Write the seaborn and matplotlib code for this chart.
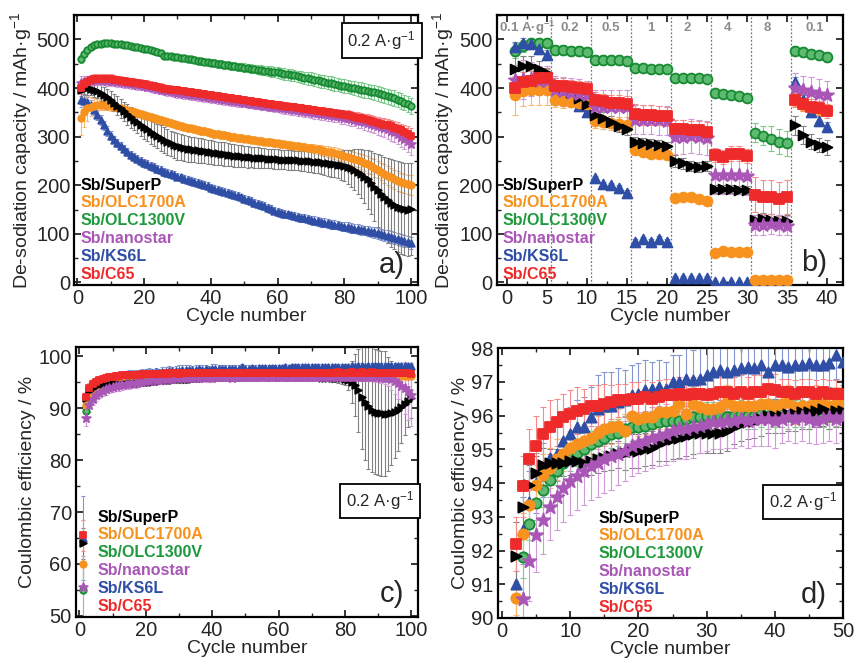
import numpy as np
import pandas as pd
import matplotlib.pyplot as plt
import seaborn as sns
from matplotlib.ticker import MultipleLocator

sns.set_theme(style='ticks')
plt.rcParams['font.family'] = ['Liberation Sans', 'DejaVu Sans']
plt.rcParams['mathtext.default'] = 'regular'

# ---- sample names / styles ----
labels = ['Sb/SuperP', 'Sb/OLC1700A', 'Sb/OLC1300V', 'Sb/nanostar', 'Sb/KS6L', 'Sb/C65']
colors = ['#000000', '#F7921E', '#1E9A3C', '#A956B6', '#2F4EA6', '#EE2A2A']
err_colors = ['#808080', '#F9B870', '#7CC98C', '#D09AD8', '#8496CF', '#F48A8A']
markers = ['>', 'o', 'o', '*', '^', 's']
draw_order = [2, 4, 1, 0, 3, 5]

# ---- a) de-sodiation capacity at 0.2 A/g, cycles 1-100 ----
cyc_a = list(range(1, 101))
cap_superp = [395, 399, 400, 399, 397, 394, 390, 386, 381, 376,
              370, 364, 358, 352, 346, 340, 335, 330, 325, 320,
              315, 310, 305, 301, 297, 293, 289, 286, 283, 280,
              278, 277, 275, 274, 273, 272, 271, 270, 269, 268,
              267, 266, 265, 264, 263, 262, 261, 260, 260, 259,
              258, 258, 257, 257, 256, 256, 255, 255, 254, 254,
              253, 253, 252, 252, 251, 251, 250, 250, 249, 249,
              248, 248, 247, 246, 245, 244, 243, 242, 241, 240,
              238, 235, 232, 228, 224, 218, 212, 205, 197, 190,
              182, 175, 169, 164, 160, 156, 153, 151, 150, 151]
cap_olc1700 = [338, 350, 358, 362, 364, 365, 365, 365, 364, 363,
               362, 360, 358, 356, 354, 352, 350, 348, 346, 344,
               342, 340, 338, 336, 334, 332, 330, 328, 326, 324,
               322, 320, 318, 317, 315, 314, 312, 311, 309, 307,
               306, 305, 304, 303, 302, 300, 299, 298, 297, 296,
               295, 294, 293, 292, 291, 290, 289, 288, 287, 286,
               285, 284, 283, 282, 281, 280, 279, 278, 277, 276,
               275, 274, 272, 271, 269, 268, 266, 264, 262, 260,
               258, 256, 254, 252, 249, 246, 243, 240, 236, 232,
               228, 224, 220, 216, 212, 209, 206, 204, 202, 201]
cap_olc1300 = [460, 470, 478, 484, 488, 490, 491, 492, 492, 492,
               491, 491, 490, 489, 488, 487, 485, 484, 483, 481,
               480, 478, 476, 474, 472, 466, 466, 465, 464, 463,
               462, 461, 460, 459, 458, 456, 455, 454, 453, 452,
               451, 450, 449, 448, 447, 446, 445, 444, 443, 442,
               441, 440, 439, 438, 437, 436, 435, 434, 433, 432,
               430, 429, 428, 427, 426, 424, 423, 421, 420, 419,
               417, 416, 414, 413, 411, 410, 408, 407, 405, 404,
               403, 401, 400, 398, 397, 395, 394, 392, 391, 389,
               387, 385, 383, 381, 379, 376, 373, 370, 367, 363]
cap_nanostar = [410, 412, 414, 415, 416, 416, 416, 416, 415, 415,
                414, 413, 412, 411, 410, 409, 408, 407, 406, 405,
                403, 402, 400, 399, 397, 396, 394, 393, 392, 390,
                389, 388, 387, 386, 385, 384, 383, 382, 381, 380,
                379, 378, 377, 376, 375, 374, 373, 372, 371, 370,
                369, 368, 367, 366, 365, 364, 363, 362, 361, 360,
                359, 358, 357, 356, 355, 354, 353, 352, 351, 350,
                349, 348, 347, 346, 345, 344, 343, 342, 340, 339,
                338, 336, 335, 333, 332, 330, 328, 326, 324, 322,
                320, 318, 315, 312, 309, 305, 300, 296, 291, 285]
cap_ks6l = [375, 374, 372, 365, 355, 345, 334, 323, 312, 302,
            294, 287, 280, 274, 268, 263, 258, 254, 250, 246,
            243, 240, 237, 234, 231, 228, 226, 223, 221, 218,
            216, 213, 211, 209, 206, 204, 202, 200, 198, 195,
            193, 191, 189, 187, 185, 182, 180, 178, 175, 172,
            170, 167, 164, 162, 159, 157, 154, 151, 148, 145,
            143, 141, 140, 138, 137, 135, 133, 132, 130, 129,
            127, 126, 124, 123, 122, 120, 119, 118, 116, 115,
            114, 112, 111, 110, 108, 107, 106, 104, 103, 101,
            99, 97, 96, 94, 92, 90, 88, 86, 84, 81]
cap_c65 = [400, 408, 413, 416, 418, 419, 419, 419, 418, 418,
           417, 416, 415, 414, 413, 412, 411, 410, 409, 408,
           407, 405, 404, 402, 401, 399, 398, 397, 396, 395,
           394, 393, 392, 391, 390, 389, 388, 387, 386, 385,
           384, 383, 382, 381, 380, 379, 378, 377, 376, 375,
           374, 373, 372, 371, 370, 369, 368, 367, 366, 365,
           364, 363, 362, 361, 360, 359, 358, 357, 356, 355,
           354, 353, 352, 351, 350, 349, 348, 347, 346, 345,
           344, 342, 341, 339, 338, 336, 335, 333, 331, 329,
           327, 325, 323, 321, 318, 316, 313, 310, 306, 302]

err_cap_superp = [12, 12, 14, 14, 15, 15, 16, 16, 17, 18,
                  18, 19, 20, 20, 21, 22, 22, 23, 23, 24,
                  24, 25, 25, 25, 26, 26, 26, 26, 27, 27,
                  27, 27, 27, 26, 26, 26, 26, 25, 25, 25,
                  25, 24, 24, 24, 23, 23, 23, 22, 22, 22,
                  22, 21, 21, 21, 21, 20, 20, 20, 20, 20,
                  20, 20, 20, 20, 20, 20, 20, 21, 21, 21,
                  22, 22, 23, 24, 25, 26, 27, 28, 30, 32,
                  35, 38, 42, 46, 50, 55, 60, 65, 70, 75,
                  80, 84, 88, 90, 92, 93, 94, 95, 95, 95]
err_cap_olc1700 = [35, 30, 25, 20, 15, 12, 10, 10, 10, 10,
                   8, 8, 8, 8, 8, 8, 8, 8, 8, 8,
                   8, 8, 8, 8, 8, 8, 8, 8, 8, 8,
                   8, 8, 8, 8, 8, 8, 8, 8, 8, 8,
                   8, 8, 8, 8, 8, 8, 8, 8, 8, 8,
                   8, 8, 8, 8, 8, 8, 8, 8, 8, 8,
                   8, 8, 8, 8, 8, 8, 8, 8, 8, 8,
                   9, 9, 10, 10, 11, 11, 12, 12, 13, 13,
                   14, 14, 15, 15, 16, 16, 17, 17, 18, 18,
                   18, 19, 19, 19, 20, 20, 20, 20, 20, 20]
err_cap_olc1300 = [8, 6, 5, 5, 5, 5, 5, 5, 5, 5,
                   5, 5, 5, 5, 5, 5, 5, 5, 5, 5,
                   6, 6, 6, 6, 6, 6, 6, 6, 6, 6,
                   6, 6, 6, 7, 7, 7, 7, 7, 7, 7,
                   8, 8, 8, 8, 8, 8, 8, 8, 8, 9,
                   9, 9, 9, 10, 10, 10, 10, 11, 11, 11,
                   12, 12, 12, 12, 12, 12, 12, 12, 13, 13,
                   13, 13, 13, 13, 13, 14, 14, 14, 14, 14,
                   14, 14, 14, 14, 15, 15, 15, 15, 15, 15,
                   15, 15, 15, 16, 16, 16, 16, 16, 16, 16]
err_cap_nanostar = [15, 12, 10, 10, 10, 10, 10, 10, 10, 10,
                    10, 10, 10, 10, 10, 10, 10, 10, 10, 10,
                    10, 10, 10, 10, 10, 10, 10, 10, 10, 10,
                    10, 10, 10, 10, 10, 10, 10, 10, 10, 10,
                    10, 10, 10, 10, 10, 10, 10, 10, 10, 10,
                    10, 10, 10, 10, 10, 10, 10, 10, 10, 10,
                    11, 11, 11, 11, 11, 11, 11, 11, 11, 11,
                    12, 12, 12, 12, 12, 12, 12, 12, 13, 13,
                    13, 14, 14, 15, 15, 16, 16, 17, 17, 18,
                    18, 19, 19, 20, 20, 21, 21, 22, 22, 22]
err_cap_ks6l = [15, 12, 10, 10, 10, 10, 10, 10, 10, 9,
                8, 8, 8, 8, 8, 8, 8, 8, 8, 8,
                8, 8, 8, 8, 8, 8, 8, 8, 8, 8,
                8, 8, 8, 8, 8, 8, 8, 8, 8, 8,
                8, 8, 8, 8, 8, 8, 8, 8, 8, 8,
                8, 8, 8, 8, 8, 8, 8, 8, 8, 8,
                8, 8, 8, 8, 8, 8, 8, 8, 8, 8,
                9, 9, 9, 9, 9, 9, 9, 9, 9, 9,
                10, 10, 10, 10, 10, 10, 11, 11, 11, 11,
                11, 11, 12, 12, 12, 12, 12, 12, 12, 12]
err_cap_c65 = [12, 10, 10, 10, 10, 10, 10, 10, 10, 10,
               9, 9, 9, 9, 9, 9, 9, 9, 9, 9,
               9, 9, 9, 9, 9, 9, 9, 9, 9, 9,
               8, 8, 8, 8, 8, 8, 8, 8, 8, 8,
               8, 8, 8, 8, 8, 8, 8, 8, 8, 8,
               8, 8, 8, 8, 8, 8, 8, 8, 8, 8,
               9, 9, 9, 9, 9, 9, 9, 9, 9, 9,
               9, 9, 9, 9, 9, 9, 9, 9, 9, 9,
               10, 10, 10, 11, 11, 11, 12, 12, 12, 12,
               12, 13, 13, 13, 14, 14, 14, 15, 15, 15]

# ---- b) rate capability, cycles 1-40 ----
cyc_b = list(range(1, 41))
rate_labels = ['0.1 A·g$^{-1}$', '0.2', '0.5', '1', '2', '4', '8', '0.1']
rate_label_x = [2.5, 7.8, 13.0, 18.0, 22.5, 27.5, 32.5, 38.5]
rate_steps = [5.5, 10.5, 15.5, 20.5, 25.5, 30.5, 35.5]
rate_superp = [440, 445, 446, 440, 430, 410, 400, 392, 380, 368,
               345, 338, 330, 322, 316, 290, 287, 285, 283, 280,
               250, 245, 240, 238, 240, 192, 193, 192, 191, 190,
               128, 130, 128, 127, 127, 323, 303, 290, 283, 278]
rate_olc1700 = [385, 393, 395, 395, 395, 375, 373, 372, 370, 368,
                332, 330, 328, 326, 325, 273, 268, 264, 265, 263,
                174, 175, 175, 172, 168, 60, 64, 63, 63, 63,
                5, 5, 5, 5, 5, 375, 365, 360, 357, 355]
rate_olc1300 = [477, 486, 492, 492, 493, 479, 479, 477, 476, 475,
                458, 458, 457, 457, 455, 441, 441, 440, 440, 439,
                421, 421, 420, 420, 419, 390, 388, 386, 384, 380,
                308, 302, 296, 290, 286, 477, 474, 471, 467, 464]
rate_nanostar = [417, 418, 418, 415, 415, 395, 393, 390, 388, 385,
                 362, 362, 362, 361, 360, 335, 335, 335, 334, 333,
                 300, 300, 302, 300, 298, 222, 222, 222, 222, 220,
                 118, 118, 120, 118, 117, 400, 395, 392, 388, 385]
rate_ks6l = [484, 492, 490, 480, 469, 405, 395, 385, 363, 350,
             214, 202, 200, 195, 185, 84, 89, 84, 90, 84,
             10, 10, 10, 10, 10, 2, 2, 2, 2, 2,
             2, 2, 2, 2, 2, 412, 375, 350, 332, 320]
rate_c65 = [400, 412, 415, 420, 420, 405, 405, 402, 400, 398,
            376, 373, 370, 370, 368, 347, 345, 345, 343, 342,
            315, 315, 313, 313, 310, 262, 258, 265, 265, 260,
            181, 175, 175, 172, 175, 375, 367, 362, 358, 353]

err_rate_superp = [25, 20, 20, 15, 12, 10, 10, 10, 10, 10,
                   12, 12, 12, 12, 12, 10, 10, 10, 10, 10,
                   12, 12, 10, 10, 10, 8, 8, 8, 8, 8,
                   10, 12, 12, 12, 12, 20, 18, 15, 15, 15]
err_rate_olc1700 = [40, 30, 30, 30, 30, 15, 15, 12, 12, 12,
                    15, 15, 15, 15, 15, 10, 10, 8, 8, 8,
                    6, 6, 6, 6, 6, 5, 5, 5, 5, 5,
                    3, 3, 3, 3, 3, 12, 12, 12, 12, 12]
err_rate_olc1300 = [15, 12, 10, 10, 10, 10, 10, 10, 10, 10,
                    10, 10, 10, 10, 10, 8, 8, 8, 8, 8,
                    8, 8, 8, 8, 8, 8, 8, 8, 8, 8,
                    20, 20, 25, 25, 25, 10, 10, 10, 10, 10]
err_rate_nanostar = [30, 40, 35, 30, 30, 30, 30, 30, 30, 30,
                     35, 35, 35, 35, 35, 30, 30, 30, 30, 30,
                     35, 35, 35, 35, 35, 40, 40, 40, 40, 40,
                     20, 20, 20, 20, 20, 30, 30, 30, 30, 30]
err_rate_ks6l = [10, 10, 10, 10, 10, 6, 6, 6, 6, 6,
                 5, 5, 5, 5, 5, 5, 5, 5, 5, 5,
                 3, 3, 3, 3, 3, 2, 2, 2, 2, 2,
                 2, 2, 2, 2, 2, 10, 10, 10, 10, 10]
err_rate_c65 = [20, 20, 20, 20, 20, 15, 15, 15, 15, 15,
                15, 15, 15, 15, 15, 20, 20, 20, 20, 20,
                20, 20, 20, 20, 20, 15, 15, 15, 15, 15,
                35, 35, 35, 35, 35, 15, 15, 15, 15, 15]

# ---- c) / d) coulombic efficiency, cycles 1-100 ----
cyc_c = list(range(1, 101))
ce_superp = [64.0, 91.85, 93.3, 93.95, 94.3, 94.55, 94.6, 94.6, 94.6, 94.65,
             94.65, 94.6, 94.65, 94.7, 94.75, 94.8, 94.85, 94.9, 94.95, 94.95,
             95.0, 95.05, 95.15, 95.25, 95.3, 95.35, 95.4, 95.45, 95.5, 95.5,
             95.5, 95.5, 95.55, 95.65, 95.75, 95.8, 95.85, 95.9, 96.0, 96.0,
             96.0, 96.05, 96.05, 96.1, 96.1, 96.15, 96.2, 96.1, 96.15, 96.15,
             96.1, 96.15, 96.1, 96.1, 96.15, 96.1, 96.1, 96.05, 96.1, 96.05,
             96.05, 96.0, 96.05, 96.0, 96.0, 96.0, 95.95, 96.0, 95.95, 95.9,
             95.9, 95.9, 95.85, 95.85, 95.8, 95.8, 95.75, 95.7, 95.7, 95.6,
             95.4, 95.0, 94.4, 93.4, 92.2, 91.1, 90.3, 89.7, 89.3, 89.1,
             89.0, 88.9, 88.9, 89.0, 89.3, 89.7, 90.2, 90.8, 91.4, 92.0]
ce_olc1700 = [60.0, 90.6, 92.5, 93.35, 93.95, 94.25, 94.45, 94.7, 94.85, 95.05,
              95.15, 95.25, 95.35, 95.5, 95.6, 95.65, 95.7, 95.55, 96.0, 95.9,
              95.95, 95.95, 96.1, 96.1, 96.15, 96.35, 96.05, 96.35, 96.25, 96.2,
              96.2, 96.25, 96.4, 96.3, 96.3, 96.3, 96.3, 96.35, 96.35, 96.3,
              96.35, 96.4, 96.25, 96.3, 96.3, 96.4, 96.35, 96.3, 96.35, 96.35,
              96.4, 96.35, 96.4, 96.4, 96.35, 96.4, 96.45, 96.4, 96.4, 96.45,
              96.4, 96.45, 96.4, 96.45, 96.4, 96.45, 96.45, 96.4, 96.45, 96.4,
              96.45, 96.4, 96.45, 96.4, 96.4, 96.45, 96.4, 96.4, 96.45, 96.4,
              96.4, 96.35, 96.4, 96.4, 96.35, 96.4, 96.35, 96.35, 96.4, 96.3,
              96.35, 96.3, 96.3, 96.3, 96.25, 96.3, 96.25, 96.2, 96.2, 96.15]
ce_olc1300 = [55.0, 89.5, 91.8, 92.8, 93.4, 93.8, 94.1, 94.35, 94.6, 94.75,
              94.9, 95.0, 95.15, 95.25, 95.35, 95.45, 95.5, 95.6, 95.65, 95.65,
              95.7, 95.75, 95.8, 95.85, 95.85, 95.85, 95.9, 95.95, 95.95, 96.0,
              96.0, 96.0, 95.95, 96.0, 96.05, 96.0, 96.0, 96.05, 96.0, 96.05,
              96.05, 96.0, 96.05, 96.05, 96.0, 96.05, 96.05, 96.0, 96.1, 96.05,
              96.1, 96.1, 96.05, 96.1, 96.15, 96.1, 96.1, 96.15, 96.15, 96.1,
              96.15, 96.2, 96.15, 96.15, 96.2, 96.2, 96.15, 96.2, 96.2, 96.25,
              96.2, 96.25, 96.2, 96.25, 96.25, 96.2, 96.25, 96.3, 96.25, 96.25,
              96.3, 96.25, 96.3, 96.3, 96.25, 96.3, 96.3, 96.3, 96.35, 96.3,
              96.3, 96.35, 96.3, 96.3, 96.35, 96.3, 96.3, 96.35, 96.3, 96.3]
ce_nanostar = [55.5, 88.0, 90.55, 91.7, 92.45, 92.9, 93.3, 93.6, 93.85, 94.05,
               94.2, 94.35, 94.5, 94.6, 94.7, 94.8, 94.85, 94.95, 95.1, 95.2,
               95.25, 95.35, 95.4, 95.45, 95.55, 95.6, 95.6, 95.65, 95.7, 95.75,
               95.8, 95.8, 95.85, 95.85, 95.9, 95.85, 95.9, 95.9, 95.9, 95.85,
               95.9, 95.95, 95.9, 95.95, 95.9, 95.85, 95.9, 95.95, 95.9, 95.95,
               95.95, 95.9, 95.95, 95.95, 96.0, 95.95, 95.95, 96.0, 95.95, 96.0,
               96.0, 95.95, 96.0, 96.0, 95.95, 96.0, 96.0, 96.0, 95.95, 96.0,
               96.0, 96.0, 95.95, 96.0, 96.0, 96.0, 95.95, 96.0, 96.0, 95.95,
               96.0, 95.95, 96.0, 96.0, 95.95, 95.95, 96.0, 95.95, 95.9, 95.9,
               95.85, 95.8, 95.7, 95.5, 95.2, 94.8, 94.3, 93.8, 93.2, 92.6]
ce_ks6l = [65.0, 91.0, 92.6, 93.45, 94.0, 94.4, 94.75, 94.85, 95.25, 95.45,
           95.65, 95.65, 95.95, 96.2, 96.3, 96.3, 96.4, 96.45, 96.6, 96.65,
           96.75, 96.8, 96.85, 96.8, 97.0, 97.0, 97.1, 97.05, 97.1, 97.2,
           97.3, 97.35, 97.3, 97.35, 97.4, 97.45, 97.4, 97.5, 97.3, 97.5,
           97.5, 97.45, 97.5, 97.5, 97.55, 97.5, 97.5, 97.55, 97.8, 97.6,
           97.6, 97.65, 97.6, 97.65, 97.7, 97.65, 97.7, 97.75, 97.7, 97.75,
           97.75, 97.8, 97.75, 97.8, 97.8, 97.85, 97.8, 97.85, 97.85, 97.9,
           97.85, 97.9, 97.9, 97.85, 97.9, 97.9, 97.95, 97.9, 97.95, 97.95,
           97.95, 98.0, 97.95, 98.0, 98.0, 97.95, 98.0, 98.05, 98.0, 98.0,
           98.05, 98.0, 98.05, 98.05, 98.0, 98.1, 98.05, 98.1, 98.05, 98.1]
ce_c65 = [65.5, 92.2, 93.9, 94.7, 95.1, 95.45, 95.65, 95.8, 95.95, 96.05,
          96.15, 96.2, 96.3, 96.3, 96.35, 96.4, 96.45, 96.45, 96.5, 96.5,
          96.55, 96.5, 96.55, 96.6, 96.6, 96.65, 96.6, 96.65, 96.65, 96.6,
          96.65, 96.7, 96.7, 96.65, 96.7, 96.65, 96.7, 96.7, 96.8, 96.75,
          96.7, 96.7, 96.65, 96.7, 96.7, 96.65, 96.7, 96.65, 96.65, 96.65,
          96.7, 96.7, 96.75, 96.7, 96.7, 96.75, 96.7, 96.75, 96.75, 96.7,
          96.75, 96.75, 96.7, 96.75, 96.8, 96.75, 96.75, 96.8, 96.75, 96.8,
          96.8, 96.75, 96.8, 96.8, 96.75, 96.8, 96.8, 96.85, 96.8, 96.8,
          96.8, 96.85, 96.8, 96.8, 96.85, 96.8, 96.8, 96.85, 96.8, 96.8,
          96.8, 96.75, 96.8, 96.75, 96.7, 96.75, 96.7, 96.7, 96.65, 96.6]

err_ce_superp = [3.0, 1.0, 0.8, 0.6, 0.5, 0.5, 0.4, 0.4, 0.4, 0.4,
                 0.4, 0.4, 0.4, 0.4, 0.4, 0.4, 0.4, 0.5, 0.5, 0.5,
                 0.5, 0.5, 0.5, 0.6, 0.6, 0.6, 0.6, 0.6, 0.6, 0.6,
                 0.6, 0.6, 0.6, 0.5, 0.5, 0.5, 0.5, 0.5, 0.5, 0.5,
                 0.5, 0.5, 0.5, 0.5, 0.5, 0.5, 0.5, 0.5, 0.5, 0.5,
                 0.5, 0.5, 0.5, 0.5, 0.5, 0.5, 0.5, 0.5, 0.5, 0.5,
                 0.5, 0.5, 0.5, 0.5, 0.5, 0.5, 0.5, 0.5, 0.5, 0.5,
                 0.5, 0.5, 0.5, 0.6, 0.6, 0.7, 0.8, 0.9, 1.0, 1.2,
                 2.0, 4.0, 6.0, 8.0, 10.0, 11.0, 12.0, 12.0, 12.0, 12.0,
                 12.0, 12.0, 11.0, 10.0, 9.0, 8.0, 7.0, 6.0, 5.0, 4.0]
err_ce_olc1700 = [4.0, 0.5, 0.6, 0.6, 0.6, 0.6, 0.6, 0.6, 0.5, 0.5,
                  0.5, 0.5, 0.5, 0.5, 0.5, 0.5, 0.5, 0.5, 0.5, 0.5,
                  0.5, 0.5, 0.5, 0.5, 0.5, 0.5, 0.5, 0.5, 0.5, 0.5,
                  0.5, 0.5, 0.5, 0.5, 0.5, 0.5, 0.5, 0.5, 0.5, 0.5,
                  0.5, 0.5, 0.5, 0.5, 0.5, 0.5, 0.5, 0.5, 0.5, 0.5,
                  0.4, 0.4, 0.4, 0.4, 0.4, 0.4, 0.4, 0.4, 0.4, 0.4,
                  0.4, 0.4, 0.4, 0.4, 0.4, 0.4, 0.4, 0.4, 0.4, 0.4,
                  0.4, 0.4, 0.4, 0.4, 0.4, 0.4, 0.4, 0.4, 0.4, 0.4,
                  0.4, 0.4, 0.4, 0.4, 0.4, 0.4, 0.4, 0.4, 0.4, 0.4,
                  0.4, 0.4, 0.4, 0.4, 0.4, 0.4, 0.4, 0.4, 0.4, 0.4]
err_ce_olc1300 = [5.0, 1.2, 0.6, 0.5, 0.5, 0.5, 0.5, 0.4, 0.4, 0.4,
                  0.4, 0.4, 0.4, 0.4, 0.4, 0.4, 0.4, 0.4, 0.4, 0.4,
                  0.4, 0.4, 0.4, 0.4, 0.4, 0.4, 0.4, 0.4, 0.4, 0.4,
                  0.4, 0.4, 0.4, 0.4, 0.4, 0.4, 0.4, 0.4, 0.4, 0.4,
                  0.4, 0.4, 0.4, 0.4, 0.4, 0.4, 0.4, 0.4, 0.4, 0.4,
                  0.4, 0.4, 0.4, 0.4, 0.4, 0.4, 0.4, 0.4, 0.4, 0.4,
                  0.4, 0.4, 0.4, 0.4, 0.4, 0.4, 0.4, 0.4, 0.4, 0.4,
                  0.4, 0.4, 0.4, 0.4, 0.4, 0.4, 0.4, 0.4, 0.4, 0.4,
                  0.4, 0.4, 0.4, 0.4, 0.4, 0.4, 0.4, 0.4, 0.4, 0.4,
                  0.4, 0.4, 0.4, 0.4, 0.4, 0.4, 0.4, 0.4, 0.4, 0.4]
err_ce_nanostar = [6.0, 1.5, 1.3, 1.2, 1.1, 1.0, 1.0, 1.0, 1.0, 1.0,
                   1.0, 1.0, 1.0, 1.0, 1.0, 1.0, 0.9, 0.9, 0.9, 0.9,
                   0.9, 0.9, 0.9, 0.9, 0.9, 0.9, 0.9, 0.9, 0.8, 0.8,
                   0.8, 0.8, 0.8, 0.8, 0.8, 0.8, 0.8, 0.8, 0.8, 0.8,
                   0.7, 0.7, 0.7, 0.7, 0.7, 0.7, 0.7, 0.7, 0.7, 0.7,
                   0.7, 0.7, 0.7, 0.7, 0.7, 0.7, 0.7, 0.7, 0.7, 0.7,
                   0.7, 0.7, 0.7, 0.7, 0.7, 0.7, 0.7, 0.7, 0.7, 0.7,
                   0.7, 0.7, 0.7, 0.7, 0.7, 0.7, 0.7, 0.7, 0.7, 0.7,
                   0.7, 0.7, 0.7, 0.7, 0.7, 0.7, 0.7, 0.8, 0.8, 0.9,
                   1.0, 1.2, 1.5, 2.0, 2.5, 3.0, 4.0, 5.0, 5.5, 6.0]
err_ce_ks6l = [8.0, 1.2, 1.0, 0.9, 0.9, 0.8, 0.8, 0.8, 0.8, 0.8,
               0.8, 0.9, 0.9, 1.0, 1.0, 1.0, 1.0, 0.9, 0.9, 0.9,
               0.9, 0.8, 0.8, 0.8, 0.8, 0.8, 0.9, 0.9, 1.0, 1.0,
               1.0, 0.9, 0.9, 0.8, 0.8, 0.8, 0.8, 0.8, 0.8, 0.9,
               0.9, 0.8, 0.8, 0.8, 0.8, 0.8, 0.8, 0.7, 0.7, 0.7,
               0.6, 0.6, 0.6, 0.6, 0.6, 0.6, 0.6, 0.6, 0.6, 0.6,
               0.6, 0.6, 0.6, 0.6, 0.6, 0.6, 0.6, 0.6, 0.6, 0.6,
               0.6, 0.6, 0.6, 0.6, 0.6, 0.6, 0.6, 0.6, 0.6, 0.6,
               0.6, 0.6, 0.6, 0.6, 0.6, 0.6, 0.6, 0.6, 0.6, 0.6,
               0.6, 0.6, 0.6, 0.6, 0.6, 0.6, 0.6, 0.6, 0.6, 0.6]
err_ce_c65 = [3.0, 0.8, 0.9, 0.9, 0.9, 0.8, 0.8, 0.7, 0.7, 0.7,
              0.7, 0.6, 0.6, 0.6, 0.6, 0.5, 0.5, 0.5, 0.5, 0.5,
              0.5, 0.5, 0.5, 0.5, 0.5, 0.5, 0.5, 0.5, 0.5, 0.5,
              0.5, 0.5, 0.5, 0.5, 0.5, 0.5, 0.5, 0.5, 0.5, 0.5,
              0.4, 0.4, 0.4, 0.4, 0.4, 0.4, 0.4, 0.4, 0.4, 0.4,
              0.4, 0.4, 0.4, 0.4, 0.4, 0.4, 0.4, 0.4, 0.4, 0.4,
              0.4, 0.4, 0.4, 0.4, 0.4, 0.4, 0.4, 0.4, 0.4, 0.4,
              0.4, 0.4, 0.4, 0.4, 0.4, 0.4, 0.4, 0.4, 0.4, 0.4,
              0.4, 0.4, 0.4, 0.4, 0.4, 0.4, 0.4, 0.4, 0.4, 0.4,
              0.4, 0.4, 0.4, 0.4, 0.4, 0.4, 0.4, 0.4, 0.4, 0.4]


def long_table(cycles, values, errors):
    rows = []
    for lab, v, e in zip(labels, values, errors):
        rows.append(pd.DataFrame({'cycle': cycles, 'value': v, 'err': e, 'sample': lab}))
    return pd.concat(rows, ignore_index=True)


df_a = long_table(cyc_a, [cap_superp, cap_olc1700, cap_olc1300, cap_nanostar, cap_ks6l, cap_c65],
                  [err_cap_superp, err_cap_olc1700, err_cap_olc1300, err_cap_nanostar, err_cap_ks6l, err_cap_c65])
df_b = long_table(cyc_b, [rate_superp, rate_olc1700, rate_olc1300, rate_nanostar, rate_ks6l, rate_c65],
                  [err_rate_superp, err_rate_olc1700, err_rate_olc1300, err_rate_nanostar, err_rate_ks6l, err_rate_c65])
df_c = long_table(cyc_c, [ce_superp, ce_olc1700, ce_olc1300, ce_nanostar, ce_ks6l, ce_c65],
                  [err_ce_superp, err_ce_olc1700, err_ce_olc1300, err_ce_nanostar, err_ce_ks6l, err_ce_c65])


def draw_series(ax, df, size, capsize):
    for i in draw_order:
        sub = df[df['sample'] == labels[i]]
        ax.errorbar(sub['cycle'], sub['value'], yerr=sub['err'], fmt='none',
                    ecolor=err_colors[i], elinewidth=0.8, capsize=capsize, capthick=0.8, zorder=2)
        s = size * 1.9 if markers[i] == '*' else size
        if labels[i] == 'Sb/OLC1300V':
            face, edge = '#5DBA6E', '#178A33'
        else:
            face, edge = colors[i], colors[i]
        sns.scatterplot(data=sub, x='cycle', y='value', marker=markers[i], s=s,
                        color=face, edgecolor=edge, linewidth=1.3, ax=ax, zorder=3, legend=False)


def style_axis(ax, xlim, ylim, xmaj, xmin, ymaj, ymin, ylabel):
    ax.set_xlim(*xlim)
    ax.set_ylim(*ylim)
    ax.xaxis.set_major_locator(MultipleLocator(xmaj))
    ax.xaxis.set_minor_locator(MultipleLocator(xmin))
    ax.yaxis.set_major_locator(MultipleLocator(ymaj))
    ax.yaxis.set_minor_locator(MultipleLocator(ymin))
    ax.tick_params(which='both', direction='in', top=True, right=True, labelsize=14.5, pad=3)
    ax.tick_params(which='major', length=5, width=1.3)
    ax.tick_params(which='minor', length=3, width=1.0)
    for sp in ax.spines.values():
        sp.set_linewidth(1.6)
        sp.set_color('black')
    ax.set_xlabel('Cycle number', fontsize=14, labelpad=0)
    ax.set_ylabel(ylabel, fontsize=14, labelpad=2)


def sample_names(ax, x0, y0):
    for i, lab in enumerate(labels):
        ax.text(x0, y0 - i * 0.066, lab, color=colors[i], fontsize=11.5, fontweight='bold',
                transform=ax.transAxes, va='center', ha='left', zorder=5)


def current_box(ax, x, y):
    ax.text(x, y, '0.2 A·g$^{-1}$', transform=ax.transAxes, fontsize=12, ha='center', va='center',
            bbox=dict(boxstyle='square,pad=0.35', facecolor='white', edgecolor='black', linewidth=1.3),
            zorder=6)


fig = plt.figure(figsize=(8.55, 6.58), dpi=100)
ax_a = fig.add_axes([0.0866, 0.567, 0.402, 0.410])
ax_b = fig.add_axes([0.581, 0.567, 0.405, 0.410])
ax_c = fig.add_axes([0.0889, 0.0623, 0.400, 0.410])
ax_d = fig.add_axes([0.5825, 0.0608, 0.4035, 0.410])

cap_label = 'De-sodiation capacity / mAh·g$^{-1}$'
ce_label = 'Coulombic efficiency / %'

# a)
draw_series(ax_a, df_a, 22, 1.5)
style_axis(ax_a, (-1, 102), (-5, 550), 20, 10, 100, 50, cap_label)
sample_names(ax_a, 0.02, 0.37)
current_box(ax_a, 0.895, 0.905)
ax_a.text(0.925, 0.075, 'a)', transform=ax_a.transAxes, fontsize=21, ha='center', va='center')

# b)
for xs in rate_steps:
    ax_b.axvline(xs, color='#777777', ls=(0, (1.5, 1.5)), lw=0.9, zorder=1)
for lab, xr in zip(rate_labels, rate_label_x):
    ax_b.text(xr, 524, lab, color='#8C8C8C', fontsize=9.5, fontweight='bold', ha='center', va='center')
draw_series(ax_b, df_b, 50, 2.5)
style_axis(ax_b, (-1.3, 42), (-5, 550), 5, 2.5, 100, 50, cap_label)
sample_names(ax_b, 0.017, 0.37)
ax_b.text(0.915, 0.08, 'b)', transform=ax_b.transAxes, fontsize=21, ha='center', va='center')

# c)
draw_series(ax_c, df_c, 22, 1.5)
style_axis(ax_c, (-1, 102), (49.8, 101.7), 20, 10, 10, 5, ce_label)
sample_names(ax_c, 0.064, 0.37)
current_box(ax_c, 0.89, 0.43)
ax_c.text(0.925, 0.085, 'c)', transform=ax_c.transAxes, fontsize=21, ha='center', va='center')

# d)
draw_series(ax_d, df_c[df_c['cycle'] <= 50], 55, 2.5)
style_axis(ax_d, (-0.6, 50), (90, 98), 10, 5, 1, 0.5, ce_label)
sample_names(ax_d, 0.29, 0.37)
current_box(ax_d, 0.885, 0.43)
ax_d.text(0.915, 0.085, 'd)', transform=ax_d.transAxes, fontsize=21, ha='center', va='center')

fig.savefig('out.png', dpi=100)
